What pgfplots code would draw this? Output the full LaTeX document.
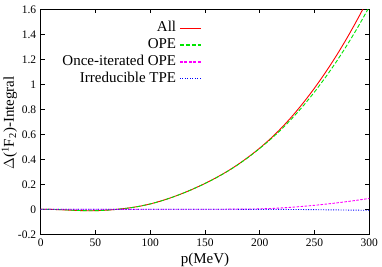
\documentclass[border=0pt]{standalone}
\usepackage{fontspec}
\setmainfont{Liberation Serif}
\usepackage{pgfplots}
\pgfplotsset{compat=1.18}
\definecolor{gpred}{RGB}{255,0,0}
\definecolor{gpgreen}{RGB}{0,230,0}
\definecolor{gpmagenta}{RGB}{255,0,255}
\definecolor{gpblue}{RGB}{0,0,255}
\begin{document}
\begin{tikzpicture}
\begin{axis}[
  scale only axis,
  width=328.6pt, height=225pt,
  xmin=0, xmax=300, ymin=-0.2, ymax=1.6,
  xtick={0,50,...,300},
  ytick={-0.2,0,0.2,0.4,0.6,0.8,1,1.2,1.4,1.6},
  tick align=inside,
  major tick length=4pt,
  tick style={black, line width=0.6pt},
  axis line style={black, line width=0.8pt},
  /pgf/number format/assume math mode=true,
  ticklabel style={font=\fontsize{11.5}{13}\selectfont},
  xticklabel style={yshift=-1pt},
  yticklabel style={xshift=-1pt},
  xlabel={p(MeV)},
  ylabel={$\Delta$(\textsuperscript{1}F\textsubscript{2})-Integral},
  label style={font=\fontsize{15}{17}\selectfont},
  xlabel style={at={(axis description cs:0.5,-0.128)}, anchor=base},
  ylabel style={at={(axis description cs:-0.095,0.495)}, anchor=center},
  legend plot pos=right,
  legend cell align=right,
  legend style={draw=none, fill=none, inner sep=0pt, outer sep=0pt,
    at={(axis description cs:0.49,0.952)}, anchor=north east,
    font=\fontsize{15}{17}\selectfont,
    nodes={text height=10pt, text depth=3pt, inner sep=1.85pt},
    column sep=1pt},
]
\addplot[draw=gpred, line width=0.9pt, smooth,
  legend image code/.code={\draw[gpred, line width=1.2pt] (0pt,0pt) -- (21pt,0pt);}] coordinates {
(0,0) (10,-0.001) (20,-0.004) (30,-0.008) (40,-0.011) (50,-0.011) (60,-0.007)
(70,0.0) (80,0.01) (90,0.024) (100,0.043) (110,0.067) (120,0.096) (130,0.129)
(140,0.166) (150,0.207) (160,0.252) (170,0.302) (180,0.358) (190,0.421)
(200,0.49) (210,0.567) (220,0.653) (230,0.749) (240,0.855) (250,0.97)
(260,1.095) (270,1.23) (280,1.376) (290,1.533) (300,1.7)};
\addlegendentry{All}
\addplot[draw=gpgreen, line width=0.9pt, dash pattern=on 4pt off 2pt, smooth,
  legend image code/.code={\draw[gpgreen, line width=1.3pt] (0pt,0pt) -- (21pt,0pt);}] coordinates {
(0,0) (10,-0.001) (20,-0.004) (30,-0.008) (40,-0.011) (50,-0.011) (60,-0.007)
(70,0.0) (80,0.01) (90,0.024) (100,0.043) (110,0.067) (120,0.096) (130,0.129)
(140,0.166) (150,0.2065) (160,0.2512) (170,0.301) (180,0.3565) (190,0.419)
(200,0.4875) (210,0.561) (220,0.642) (230,0.7325) (240,0.831) (250,0.939)
(260,1.056) (270,1.182) (280,1.318) (290,1.464) (300,1.62)};
\addlegendentry{OPE}
\addplot[draw=gpmagenta, line width=0.9pt, dash pattern=on 2.5pt off 1.5pt, smooth,
  legend image code/.code={\draw[gpmagenta, line width=1.7pt, dash pattern=on 3pt off 1.5pt] (0pt,0pt) -- (21pt,0pt);}] coordinates {
(0,0) (30,0) (60,0) (90,0) (120,0.0002) (150,0.0005) (180,0.001) (190,0.0015)
(200,0.0035) (210,0.0065) (220,0.011) (230,0.017) (240,0.024) (250,0.032)
(260,0.041) (270,0.051) (280,0.062) (290,0.074) (300,0.087)};
\addlegendentry{Once-iterated OPE}
\addplot[draw=gpblue, line width=0.9pt, dash pattern=on 1pt off 1.5pt, smooth,
  legend image code/.code={\draw[gpblue, line width=1.2pt] (0pt,0pt) -- (21pt,0pt);}] coordinates {
(0,0) (30,0) (60,0) (90,0) (120,0) (150,0) (180,0) (200,-0.0005)
(220,-0.001) (240,-0.002) (260,-0.004) (280,-0.006) (300,-0.008)};
\addlegendentry{Irreducible TPE}
\end{axis}
\pgfresetboundingbox
\useasboundingbox (-40.7pt,-32.7pt) rectangle (341.3pt,234.3pt);
\end{tikzpicture}
\end{document}
